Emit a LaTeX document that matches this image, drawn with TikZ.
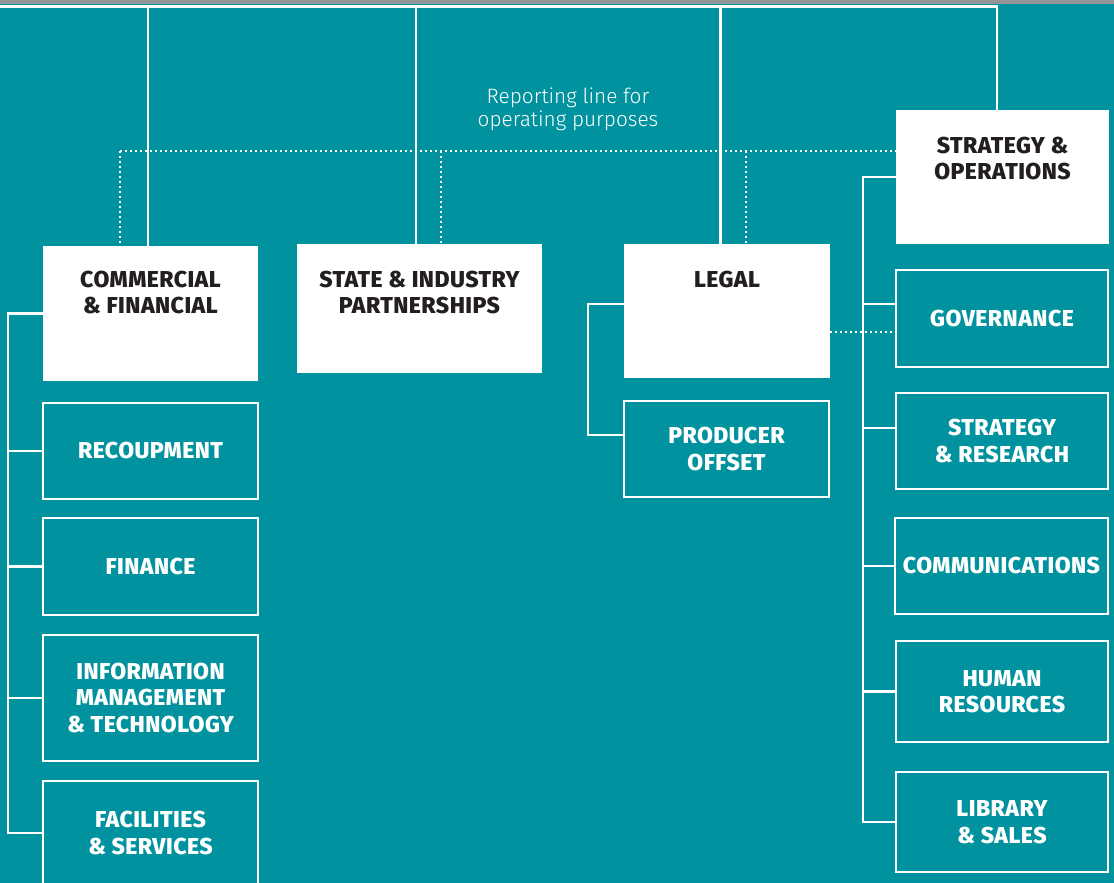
\documentclass[tikz,border=0pt]{standalone}
\usepackage{fontspec}
\setmainfont{Fira Sans}
\newfontfamily\lightfont{Fira Sans Light}
\newfontfamily\boxfont{Fira Sans ExtraBold}[LetterSpace=2]
\definecolor{teal}{HTML}{00939F}
\definecolor{topgray}{HTML}{939598}
\definecolor{ink}{HTML}{231F20}
\begin{document}
\begin{tikzpicture}[x=1pt,y=-1pt,
  wline/.style={draw=white, line width=2.2pt},
  dotline/.style={draw=white, line width=2pt, dash pattern=on 2pt off 3pt},
  headbox/.style={fill=white, inner sep=0pt},
  unitbox/.style={draw=white, line width=2.4pt, fill=teal, text=white,
    inner sep=0pt, align=center,
    font=\boxfont\fontsize{23}{26.5}\selectfont},
  headtext/.style={anchor=north, inner sep=0pt, align=center, text=ink,
    font=\boxfont\fontsize{23}{26.5}\selectfont}
]
% background and top band
\fill[teal] (0,0) rectangle (1114,883);
\fill[topgray] (0,0) rectangle (1114,4.5);
\useasboundingbox (0,0) rectangle (1114,883);

% head boxes
\node[headbox, minimum width=215pt, minimum height=135pt,
  label={[headtext, yshift=-25pt]north:{COMMERCIAL\\\& FINANCIAL}}] (cf) at (150.5,313.5) {};
\node[headbox, minimum width=245pt, minimum height=129pt,
  label={[headtext, yshift=-27pt]north:{STATE \& INDUSTRY\\PARTNERSHIPS}}] (sip) at (419.5,308.5) {};
\node[headbox, minimum width=206pt, minimum height=134pt,
  label={[headtext, yshift=-27pt]north:{LEGAL}}] (legal) at (727,311) {};
\node[headbox, minimum width=213pt, minimum height=134pt,
  label={[headtext, yshift=-27pt]north:{STRATEGY \&\\OPERATIONS}}] (so) at (1002.5,177) {};

% units under Commercial & Financial
\node[unitbox, minimum width=214.5pt, minimum height=95.5pt] (rec) at (150.5,451) {RECOUPMENT};
\node[unitbox, minimum width=214.5pt, minimum height=96.5pt] (fin) at (150.5,566.5) {FINANCE};
\node[unitbox, minimum width=214.5pt, minimum height=125.5pt] (imt) at (150.5,698) {INFORMATION\\MANAGEMENT\\\& TECHNOLOGY};
\node[unitbox, minimum width=214.5pt, minimum height=103.5pt] (fs) at (150.5,833) {FACILITIES\\\& SERVICES};

% unit under Legal
\node[unitbox, minimum width=204.5pt, minimum height=95.5pt] (po) at (726.5,449) {PRODUCER\\OFFSET};

% units under Strategy & Operations
\node[unitbox, minimum width=211.5pt, minimum height=96.5pt] (gov) at (1002,318.5) {GOVERNANCE};
\node[unitbox, minimum width=211.5pt, minimum height=95.5pt] (sr) at (1002,441) {STRATEGY\\\& RESEARCH};
\node[unitbox, minimum width=212.5pt, minimum height=95.5pt] (com) at (1001.5,566) {COMMUNICATIONS};
\node[unitbox, minimum width=211.5pt, minimum height=100.5pt] (hr) at (1002,691.5) {HUMAN\\RESOURCES};
\node[unitbox, minimum width=211.5pt, minimum height=99.5pt] (ls) at (1002,822) {LIBRARY\\\& SALES};

% reporting note
\node[anchor=north, inner sep=0pt, align=center, text=white,
  font=\lightfont\fontsize{20.8}{23.5}\selectfont] (note) at (568,87.5)
  {Reporting line for\\operating purposes};

% top reporting bus
\coordinate (busL) at (0,6.5);
\coordinate (busR) at (997,6.5);
\coordinate (t1) at (148,6.5);
\coordinate (t2) at (416,6.5);
\coordinate (t3) at (720.5,6.5);
\draw[wline] (busL) -- (busR) -- (busR |- so.north);
\draw[wline] (t1) -- (t1 |- cf.north);
\draw[wline] (t2) -- (t2 |- sip.north);
\draw[wline] (t3) -- (t3 |- legal.north);

% operating reporting line (dotted)
\coordinate (d0) at (120,151);
\coordinate (d1) at (441,151);
\coordinate (d2) at (745.5,151);
\draw[dotline] (d0) -- (d0 -| so.west);
\draw[dotline] (d0) -- (d0 |- cf.north);
\draw[dotline] (d1) -- (d1 |- sip.north);
\draw[dotline] (d2) -- (d2 |- legal.north);
\draw[dotline] ([yshift=-21pt]legal.east) -- ([yshift=-21pt]legal.east -| gov.west);

% left bracket
\coordinate (lx) at (8,0);
\draw[wline] (cf.west) -- (cf.west -| lx) -- (fs.west -| lx) -- (fs.west);
\draw[wline] (rec.west -| lx) -- (rec.west);
\draw[wline] (fin.west -| lx) -- (fin.west);
\draw[wline] (imt.west -| lx) -- (imt.west);

% legal bracket
\coordinate (mx) at (588,0);
\draw[wline] ([yshift=7pt]legal.west) -- ([yshift=7pt]legal.west -| mx)
  -- ([yshift=14pt]po.west -| mx) -- ([yshift=14pt]po.west);

% right bracket
\coordinate (rx) at (863,0);
\draw[wline] (so.west) -- (so.west -| rx) -- (ls.west -| rx) -- (ls.west);
\draw[wline] ([yshift=14.5pt]gov.west -| rx) -- ([yshift=14.5pt]gov.west);
\draw[wline] ([yshift=13pt]sr.west -| rx) -- ([yshift=13pt]sr.west);
\draw[wline] (com.west -| rx) -- (com.west);
\draw[wline] (hr.west -| rx) -- (hr.west);
\end{tikzpicture}
\end{document}
